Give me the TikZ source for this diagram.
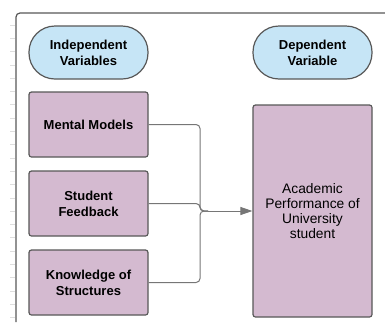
\documentclass[tikz,border=0pt]{standalone}
\usepackage{fontspec}
\setmainfont{Liberation Sans}
\usetikzlibrary{arrows.meta}

\definecolor{pillblue}{RGB}{198,229,246}
\definecolor{boxmauve}{RGB}{212,186,208}
\definecolor{edgegray}{RGB}{88,88,88}
\definecolor{wiregray}{RGB}{118,118,118}
\definecolor{tickgray}{RGB}{222,222,222}

\begin{document}
\begin{tikzpicture}[x=1pt, y=-1pt,
	pill/.style={draw=edgegray, fill=pillblue, line width=1.2pt, rounded corners=26pt, minimum width=119pt, minimum height=53pt, inner sep=0pt, align=center, font=\fontsize{13}{16}\selectfont\bfseries},
	var/.style={draw=edgegray, fill=boxmauve, line width=1.2pt, rounded corners=2.5pt, minimum width=119pt, minimum height=65pt, inner sep=0pt, align=center, font=\fontsize{13}{16}\selectfont\bfseries},
	wire/.style={draw=wiregray, line width=1pt, rounded corners=4pt}]
	\useasboundingbox (0,0) rectangle (385,322);
	% ruler marks and page frame
	\foreach \t in {0,...,22}
		\draw[tickgray, line width=0.8pt] (10, {25+13.3*\t}) -- (15, {25+13.3*\t});
	\draw[edgegray, line width=1.2pt, rounded corners=4pt] (16,322) -- (16,13) -- (386,13);
	% headers
	\node[pill] (indep) at (88.5, 52.5) {Independent\\Variables};
	\node[pill] (dep) at (312.5, 52.5) {Dependent\\Variable};
	% variables
	\node[var] (mental) at (88.5, 124.5) {Mental Models};
	\node[var] (feedback) at (88.5, 203.5) {Student\\Feedback};
	\node[var] (knowledge) at (88.5, 282.5) {Knowledge of\\Structures};
	\node[var, minimum height=212pt, font=\fontsize{13.8}{14.8}\selectfont] (perf) at (312.5, 211) {Academic\\Performance of\\University\\student};
	% merge point
	\coordinate (join) at (200, 211);
	\coordinate (joinr) at (208, 211);
	\draw[wire] (mental.east) -| (join) -- (joinr);
	\draw[wire] (feedback.east) -| (join) -- (joinr);
	\draw[wire] (knowledge.east) -| (join) -- (joinr);
	\draw[wire, -{Triangle[length=12pt, width=8pt]}] (joinr) -- (perf.west);
\end{tikzpicture}
\end{document}
